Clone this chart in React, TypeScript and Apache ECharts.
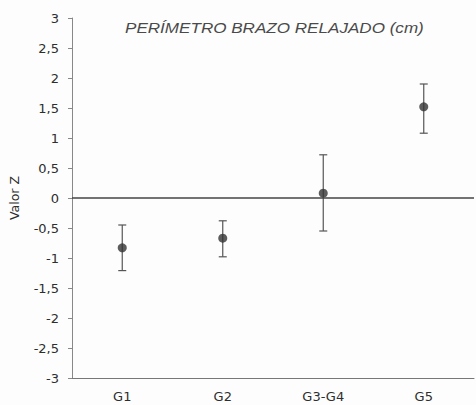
import React, { useEffect, useRef } from "react";
import * as echarts from "echarts";

// Group means of the Z score with their lower / upper error limits
const groups = ["G1", "G2", "G3-G4", "G5"];
const means = [-0.83, -0.67, 0.08, 1.52];
const lower = [-1.21, -0.98, -0.55, 1.08];
const upper = [-0.45, -0.38, 0.72, 1.9];
const yTicks = { min: -3, max: 3, step: 0.5 };

const chartTitle = "PERÍMETRO BRAZO RELAJADO (cm)";
const yName = "Valor Z";

export default function App() {
  const ref = useRef<HTMLDivElement>(null);

  useEffect(() => {
    if (!ref.current) return;
    const chart = echarts.init(ref.current, null, { renderer: "svg" });
    const sans = "'DejaVu Sans', sans-serif";
    const arial = "'Liberation Sans', Arial, sans-serif";

    const errorData = groups.map((g, i) => [i, lower[i], upper[i]]);

    chart.setOption({
      animation: false,
      backgroundColor: "#fdfdfd",
      graphic: [
        {
          type: "text",
          x: 125,
          y: 21,
          scaleX: 1.22,
          style: {
            text: chartTitle,
            fontFamily: arial,
            fontStyle: "italic",
            fontSize: 14,
            fill: "#4a4a4a",
            textVerticalAlign: "top",
          },
        },
      ],
      grid: { left: 70, right: 2, top: 18, bottom: 27 },
      xAxis: {
        type: "category",
        data: groups,
        axisLine: { onZero: false, lineStyle: { color: "#777", width: 1 } },
        axisTick: { show: false },
        axisLabel: { fontFamily: sans, fontSize: 13, color: "#2e2e2e", margin: 12 },
        splitLine: { show: false },
      },
      yAxis: {
        type: "value",
        min: yTicks.min,
        max: yTicks.max,
        interval: yTicks.step,
        name: yName,
        nameLocation: "middle",
        nameGap: 51,
        nameTextStyle: { fontFamily: sans, fontSize: 12.5, color: "#2e2e2e" },
        axisLine: { show: true, lineStyle: { color: "#888", width: 1 } },
        axisTick: { show: true, length: 4, lineStyle: { color: "#888" } },
        axisLabel: {
          fontFamily: sans,
          fontSize: 13,
          color: "#2e2e2e",
          margin: 13,
          formatter: (v: number) => String(v).replace(".", ","),
        },
        splitLine: { show: false },
      },
      series: [
        {
          type: "custom",
          data: errorData,
          z: 2,
          renderItem: (params: any, api: any) => {
            const x = api.value(0);
            const lo = api.coord([x, api.value(1)]);
            const hi = api.coord([x, api.value(2)]);
            const cap = 4;
            const style = { stroke: "#555", lineWidth: 1.2 };
            return {
              type: "group",
              children: [
                { type: "line", shape: { x1: lo[0], y1: lo[1], x2: hi[0], y2: hi[1] }, style },
                { type: "line", shape: { x1: hi[0] - cap, y1: hi[1], x2: hi[0] + cap, y2: hi[1] }, style },
                { type: "line", shape: { x1: lo[0] - cap, y1: lo[1], x2: lo[0] + cap, y2: lo[1] }, style },
              ],
            };
          },
        },
        {
          type: "scatter",
          data: means,
          symbol: "circle",
          symbolSize: 9,
          z: 3,
          itemStyle: { color: "#333" },
          markLine: {
            silent: true,
            symbol: "none",
            label: { show: false },
            lineStyle: { color: "#444", width: 1.6, type: "solid" },
            data: [{ yAxis: 0 }],
          },
        },
      ],
    });

    return () => chart.dispose();
  }, []);

  return (
    <div
      ref={ref}
      style={{ position: "absolute", left: 0, top: 0, width: 476, height: 405 }}
    />
  );
}
